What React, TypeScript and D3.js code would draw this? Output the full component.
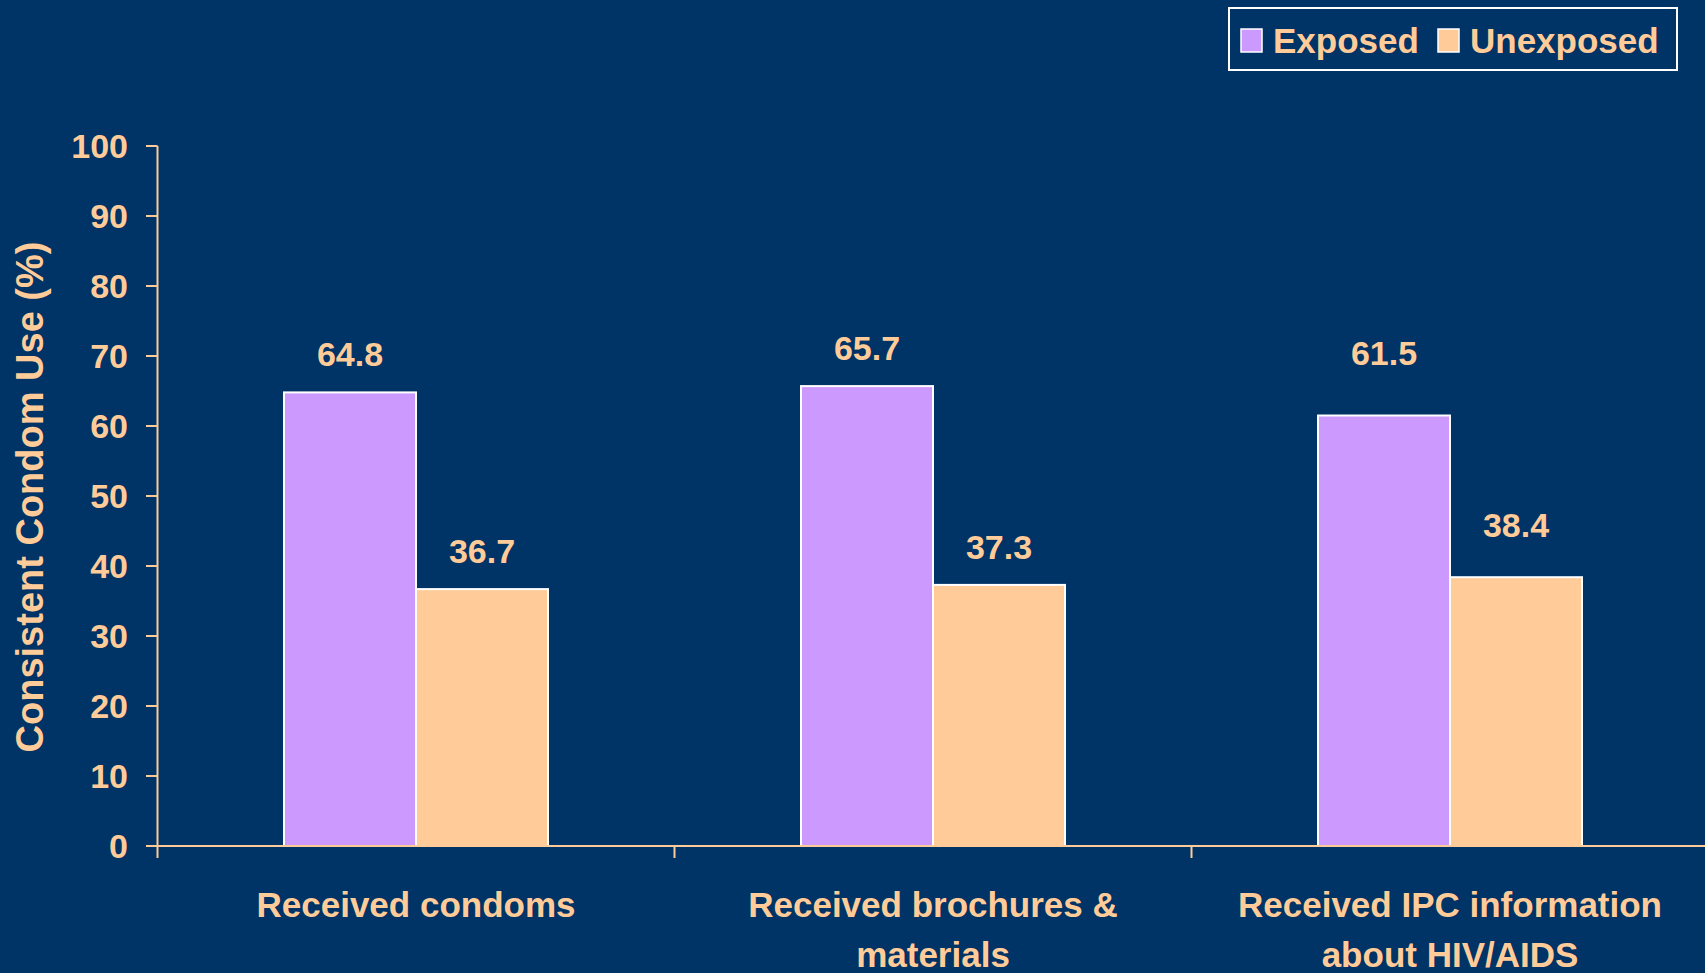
import React, { useEffect } from "react";
import * as d3 from "d3";

const categories: string[][] = [
  ["Received condoms"],
  ["Received brochures &", "materials"],
  ["Received IPC information", "about HIV/AIDS"],
];
const categoryKeys = ["condoms", "brochures", "ipc"];
const seriesNames = ["Exposed", "Unexposed"];
const exposed = [64.8, 65.7, 61.5];
const unexposed = [36.7, 37.3, 38.4];
const yTicks = [0, 10, 20, 30, 40, 50, 60, 70, 80, 90, 100];
const yTitle = "Consistent Condom Use (%)";

// layout: label baseline distance above bar top (px), per series / category
const labelGapExposed = [26, 26, 51];
const labelGapUnexposed = [26, 26, 40];

const W = 1705;
const H = 973;
const BG = "#003366";
const TXT = "#FFCC99";
const COLORS = ["#CC99FF", "#FFCC99"];
const FONT = "'Liberation Sans', Arial, sans-serif";

export default function App() {
  useEffect(() => {
    document.body.style.margin = "0";
    document.body.style.background = BG;
    document.body.style.overflow = "hidden";
  }, []);

  const x0 = d3.scaleBand<string>().domain(categoryKeys).range([157.5, 157.5 + 517 * 3]).padding(0);
  const x1 = d3
    .scaleBand<string>()
    .domain(seriesNames)
    .range([0, x0.bandwidth()])
    .paddingInner(0)
    .paddingOuter(126.5 / 132);
  const y = d3.scaleLinear().domain([0, 100]).range([846, 146]);
  const values = [exposed, unexposed];
  const gaps = [labelGapExposed, labelGapUnexposed];

  return (
    <svg width={W} height={H} style={{ display: "block", background: BG }} fontFamily={FONT}>
      <rect x={0} y={0} width={W} height={H} fill={BG} />
      {categoryKeys.map((c, ci) =>
        seriesNames.map((s, si) => {
          const v = values[si][ci];
          const bx = (x0(c) as number) + (x1(s) as number);
          return (
            <g key={c + s}>
              <rect
                x={bx}
                y={y(v)}
                width={x1.bandwidth()}
                height={y(0) - y(v)}
                fill={COLORS[si]}
                stroke="#FFFFFF"
                strokeWidth={2}
              />
              <text
                x={bx + x1.bandwidth() / 2}
                y={y(v) - gaps[si][ci]}
                textAnchor="middle"
                fill={TXT}
                fontWeight="bold"
                fontSize={34}
              >
                {v.toFixed(1)}
              </text>
            </g>
          );
        })
      )}
      <line x1={157.5} x2={157.5} y1={y(100)} y2={y(0)} stroke={TXT} strokeWidth={2} />
      {yTicks.map((t) => (
        <g key={t}>
          <line x1={146} x2={157.5} y1={y(t)} y2={y(t)} stroke={TXT} strokeWidth={2} />
          <text x={128} y={y(t) + 12} textAnchor="end" fill={TXT} fontWeight="bold" fontSize={34}>
            {t}
          </text>
        </g>
      ))}
      <line x1={157.5} x2={W} y1={y(0)} y2={y(0)} stroke={TXT} strokeWidth={2} />
      {categoryKeys.map((c) => (
        <line key={c} x1={x0(c) as number} x2={x0(c) as number} y1={y(0)} y2={y(0) + 12} stroke={TXT} strokeWidth={2} />
      ))}
      {categoryKeys.map((c, ci) => (
        <text
          key={c}
          x={(x0(c) as number) + x0.bandwidth() / 2}
          y={917}
          textAnchor="middle"
          fill={TXT}
          fontWeight="bold"
          fontSize={35}
        >
          {categories[ci].map((line, li) => (
            <tspan key={li} x={(x0(c) as number) + x0.bandwidth() / 2} dy={li === 0 ? 0 : 50}>
              {line}
            </tspan>
          ))}
        </text>
      ))}
      <text
        transform={`translate(43,497) rotate(-90)`}
        textAnchor="middle"
        fill={TXT}
        fontWeight="bold"
        fontSize={38}
      >
        {yTitle}
      </text>
      <rect x={1229} y={8} width={448} height={62} fill={BG} stroke="#FFFFFF" strokeWidth={2} />
      {seriesNames.map((s, si) => {
        const sx = si === 0 ? 1241 : 1438;
        return (
          <g key={s}>
            <rect x={sx} y={29} width={21} height={23} fill={COLORS[si]} stroke="#FFFFFF" strokeWidth={1.5} />
            <text x={sx + 32} y={53} fill={TXT} fontWeight="bold" fontSize={35}>
              {s}
            </text>
          </g>
        );
      })}
    </svg>
  );
}
